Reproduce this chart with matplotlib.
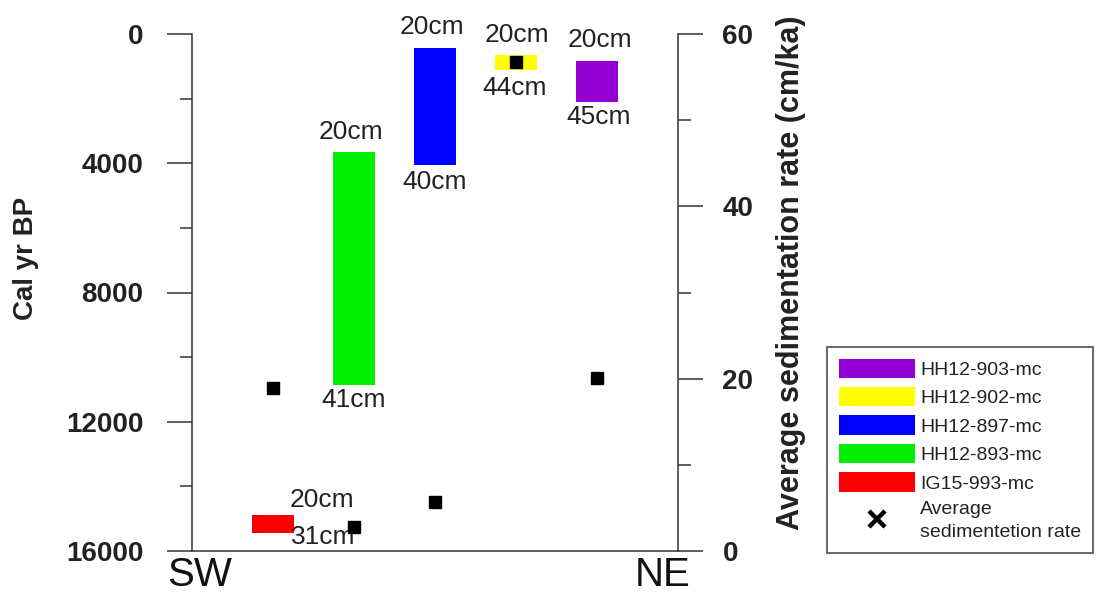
import matplotlib
matplotlib.use("Agg")
import matplotlib.pyplot as plt
from matplotlib.patches import Patch
from matplotlib.lines import Line2D
from matplotlib.ticker import MultipleLocator

plt.rcParams['font.family'] = ['Liberation Sans', 'DejaVu Sans']

# ---- data ----
sites = ['IG15-993-mc', 'HH12-893-mc', 'HH12-897-mc', 'HH12-902-mc', 'HH12-903-mc']
site_pos = [1, 2, 3, 4, 5]
age_top = [14890, 3650, 430, 650, 840]          # cal yr BP at top of dated interval
age_bottom = [15440, 10860, 4050, 1110, 2100]   # cal yr BP at bottom of dated interval
depth_top_labels = ['20cm', '20cm', '20cm', '20cm', '20cm']
depth_bottom_labels = ['31cm', '41cm', '40cm', '44cm', '45cm']
sed_rate = [18.9, 2.8, 5.7, 56.7, 20.1]         # cm/ka

# ---- styles ----
colors = ['#FF0000', '#00EE00', '#0000FF', '#FFFF00', '#9400D3']
top_off = [(35, 11), (-2, 14.5), (-2, 15), (1, 14.5), (2, 15)]
bot_off = [(36, -3), (0, -11), (0, -12.5), (-1, -13), (1, -11)]
spine_c = '#333333'

fig = plt.figure(figsize=(11.03, 5.94), dpi=100)
ax = fig.add_axes([192/1103, 1-551/594, (678-192)/1103, (551-34)/594])
ax2 = ax.twinx()

heights = [b - t for t, b in zip(age_top, age_bottom)]
ax.bar(site_pos, heights, bottom=age_top, width=0.52, color=colors, edgecolor='none', zorder=2)

for i in range(len(sites)):
    ax.annotate(depth_top_labels[i], xy=(site_pos[i], age_top[i]), xytext=top_off[i],
                textcoords='offset points', ha='center', va='center', fontsize=19, color='#222222')
    ax.annotate(depth_bottom_labels[i], xy=(site_pos[i], age_bottom[i]), xytext=bot_off[i],
                textcoords='offset points', ha='center', va='center', fontsize=19, color='#222222')

ax2.plot(site_pos, sed_rate, linestyle='none', marker='s', markersize=8, color='black', zorder=5)

ax.set_xlim(0, 6)
ax.set_ylim(16000, 0)
ax2.set_ylim(0, 60)
ax.set_xticks([])

ax.yaxis.set_major_locator(MultipleLocator(4000))
ax.yaxis.set_minor_locator(MultipleLocator(2000))
ax2.yaxis.set_major_locator(MultipleLocator(20))
ax2.yaxis.set_minor_locator(MultipleLocator(10))

for a in (ax, ax2):
    for s in a.spines.values():
        s.set_color(spine_c)
        s.set_linewidth(1.1)
    a.spines['top'].set_visible(False)
ax.spines['right'].set_visible(False)
ax2.spines['left'].set_visible(False)
ax2.spines['bottom'].set_visible(False)

ax.tick_params(axis='y', which='major', length=18, width=1.1, color=spine_c, pad=17,
               labelsize=20, labelcolor='#222222')
ax.tick_params(axis='y', which='minor', length=9, width=1.1, color=spine_c)
ax2.tick_params(axis='y', which='major', length=18, width=1.1, color=spine_c, pad=14,
                labelsize=20, labelcolor='#222222')
ax2.tick_params(axis='y', which='minor', length=9, width=1.1, color=spine_c)
for lab in ax.get_yticklabels() + ax2.get_yticklabels():
    lab.set_fontweight('bold')

fig.text(26/1103, 1-258/594, 'Cal yr BP', rotation=90, ha='center', va='center',
         fontsize=20, fontweight='bold', color='#222222')
fig.text(791/1103, 1-273/594, 'Average sedimentation rate (cm/ka)', rotation=90, ha='center',
         va='center', fontsize=22, fontweight='bold', color='#222222')

fig.text(167/1103, 1-586/594, 'SW', ha='left', va='baseline', fontsize=29, color='#111111')
fig.text(691/1103, 1-586/594, 'NE', ha='right', va='baseline', fontsize=29, color='#111111')

# legend
handles = [Patch(facecolor=colors[i], edgecolor='none') for i in range(len(sites) - 1, -1, -1)]
labels = [sites[i] for i in range(len(sites) - 1, -1, -1)]
handles.append(Line2D([], [], linestyle='none', marker='x', markersize=11,
                      markeredgewidth=3.2, color='black'))
labels.append('Average\nsedimentetion rate')
leg = fig.legend(handles, labels, loc='upper left', bbox_to_anchor=(827/1103, 1-347/594),
                 borderaxespad=0, fontsize=14, handlelength=3.9, handleheight=1.15,
                 handletextpad=0.3, labelspacing=0.42, borderpad=0.6, frameon=True,
                 fancybox=False)
leg.get_frame().set_edgecolor('#333333')
leg.get_frame().set_linewidth(1.3)
for t in leg.get_texts():
    t.set_color('#222222')
leg.get_texts()[-1].set_linespacing(1.5)

fig.savefig('out.png', dpi=100)
